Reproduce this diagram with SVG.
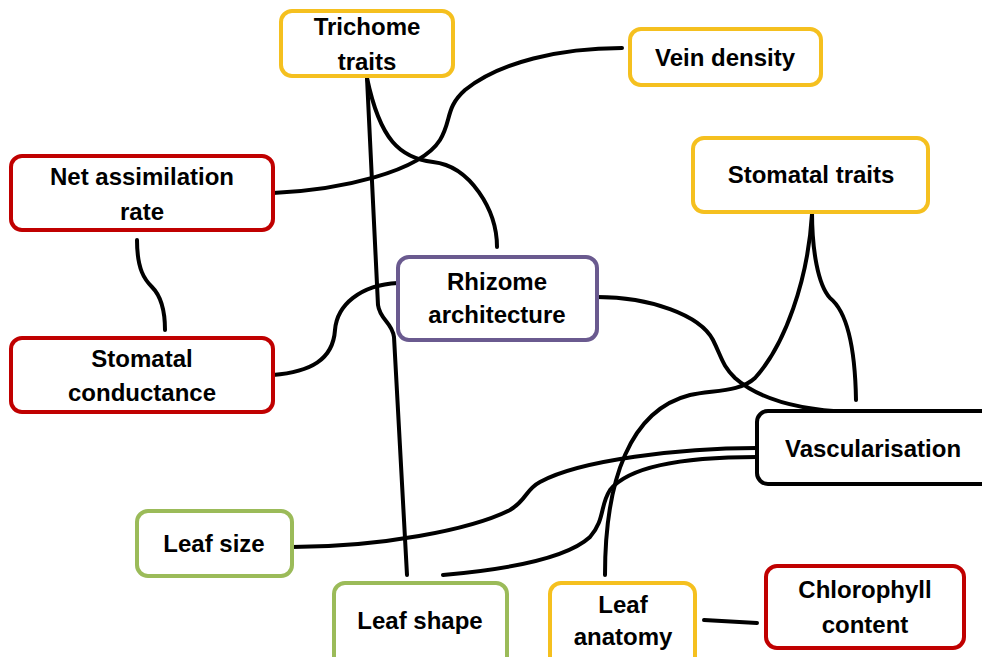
<svg xmlns="http://www.w3.org/2000/svg" width="982" height="657" viewBox="0 0 982 657">
<style>
.box{fill:#fff;stroke-width:4}
.y{stroke:#f5c01f}.r{stroke:#c00000}.p{stroke:#6a5a8f}.g{stroke:#9bbb59}.k{stroke:#000}
text{font-family:"Liberation Sans",Arial,sans-serif;font-weight:bold;font-size:24px;text-anchor:middle;fill:#000}
.c path{fill:none;stroke:#000;stroke-width:4;stroke-linecap:round}
</style>
<rect width="982" height="657" fill="#fff"/>
<g class="c" id="connectors">
<path d="M367,78 L378,305 C380,320 392,322 394,337 L407,575"/>
<path d="M367,78 C380,140 400,158 433,162 C470,166 497,210 497,247"/>
<path d="M273,193 C340,190 420,172 440,140 C452,120 445,108 465,90 C500,62 560,48 622,48"/>
<path d="M137,240 C137,270 145,280 152,287 C160,295 165,310 165,330"/>
<path d="M273,375 C310,372 333,360 335,330 C337,305 360,285 398,283"/>
<path d="M597,297 C650,297 700,315 713,340 C722,358 722,365 735,378 C760,400 800,410 850,412"/>
<path d="M812,212 C812,250 818,285 830,298 C845,310 855,340 856,400"/>
<path d="M812,214 C808,280 785,345 755,378 C740,392 715,390 690,395 C630,410 605,480 605,575"/>
<path d="M757,448 C680,448 580,460 540,482 C525,490 527,500 510,510 C470,530 380,547 292,547"/>
<path d="M757,457 C690,457 630,465 610,490 C600,505 605,520 590,537 C565,560 500,570 443,575"/>
<path d="M704,620 L757,623"/>
</g>
<g id="trichome"><rect class="box y" x="281" y="11" width="172" height="65" rx="11"/><text x="367" y="35">Trichome</text><text x="367" y="70">traits</text></g>
<g id="vein"><rect class="box y" x="630" y="29" width="191" height="56" rx="11"/><text x="725" y="66">Vein density</text></g>
<g id="netassim"><rect class="box r" x="11" y="156" width="262" height="74" rx="11"/><text x="142" y="185">Net assimilation</text><text x="142" y="220">rate</text></g>
<g id="stomataltraits"><rect class="box y" x="693" y="138" width="235" height="74" rx="11"/><text x="811" y="183">Stomatal traits</text></g>
<g id="rhizome"><rect class="box p" x="398" y="257" width="199" height="83" rx="11"/><text x="497" y="290">Rhizome</text><text x="497" y="323">architecture</text></g>
<g id="stomatalcond"><rect class="box r" x="11" y="338" width="262" height="74" rx="11"/><text x="142" y="367">Stomatal</text><text x="142" y="401">conductance</text></g>
<g id="vasc"><rect class="box k" x="757" y="411" width="240" height="73" rx="11"/><text x="873" y="457">Vascularisation</text></g>
<g id="leafsize"><rect class="box g" x="137" y="511" width="155" height="65" rx="11"/><text x="214" y="552">Leaf size</text></g>
<g id="leafshape"><rect class="box g" x="334" y="583" width="173" height="85" rx="11"/><text x="420" y="629">Leaf shape</text></g>
<g id="leafanatomy"><rect class="box y" x="550" y="583" width="145" height="85" rx="11"/><text x="623" y="613">Leaf</text><text x="623" y="645">anatomy</text></g>
<g id="chlorophyll"><rect class="box r" x="766" y="566" width="198" height="82" rx="11"/><text x="865" y="598">Chlorophyll</text><text x="865" y="633">content</text></g>
</svg>
